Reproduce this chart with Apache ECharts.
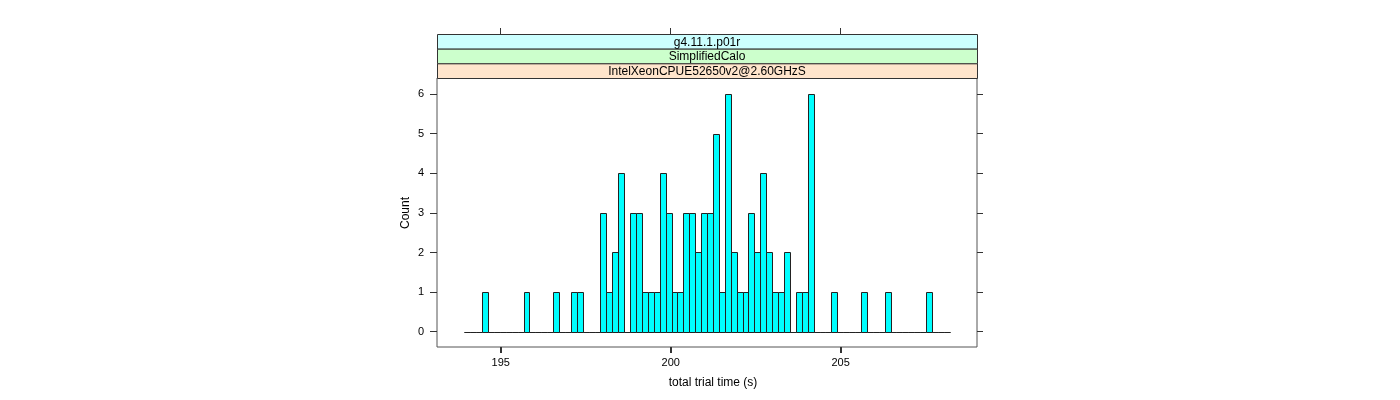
<!DOCTYPE html>
<html>
<head>
<meta charset="utf-8">
<script src="https://cdn.jsdelivr.net/npm/echarts@6/dist/echarts.min.js"></script>
<style>
html,body{margin:0;padding:0;background:#fff;}
#chart{width:1400px;height:400px;}
</style>
</head>
<body>
<div id="chart"></div>
<script>
// Histogram breaks (seconds)
const binStart = 193.93;
const binWidth = 0.17412;
// Counts per bin (82 bins)
const counts = [0,0,0,1,0,0,0,0,0,0,
                1,0,0,0,0,1,0,0,1,1,
                0,0,0,3,1,2,4,0,3,3,
                1,1,1,4,3,1,1,3,3,2,
                3,3,5,1,6,2,1,1,3,2,
                4,2,1,1,2,0,1,1,6,0,
                0,0,1,0,0,0,0,1,0,0,
                0,1,0,0,0,0,0,0,1,0,
                0,0];
const xTicks = [195, 200, 205];
const yTicks = [0, 1, 2, 3, 4, 5, 6];
const stripLabels = ['g4.11.1.p01r', 'SimplifiedCalo', 'IntelXeonCPUE52650v2@2.60GHzS'];
const stripColors = ['#CCFFFF', '#CCFFCC', '#FFE5CC'];
const xLabel = 'total trial time (s)';
const yLabel = 'Count';

const data = counts.map((c, i) => [binStart + i * binWidth, binStart + (i + 1) * binWidth, c]);

const FONT = 'Liberation Sans';
const G = {left: 437, top: 78, width: 540, height: 269};
const stripTop = 34;
const stripH = (G.top - stripTop) / 3;
const X_MIN = 193.126, X_MAX = 209.01;
const Y_MIN = -0.387, Y_MAX = 6.407;

const chart = echarts.init(document.getElementById('chart'), null, {renderer: 'canvas'});

const graphics = [];
stripLabels.forEach((t, i) => {
  const y = stripTop + i * stripH;
  graphics.push({
    type: 'rect', left: G.left, top: y, z: 10,
    shape: {x: 0, y: 0, width: G.width, height: stripH},
    style: {fill: stripColors[i], stroke: '#333', lineWidth: 1}
  });
  graphics.push({
    type: 'text', z: 11,
    x: G.left + G.width / 2, y: y + stripH / 2 + 1,
    style: {text: t, fill: '#000', font: '12px "' + FONT + '"', align: 'center', verticalAlign: 'middle'}
  });
});
graphics.push({
  type: 'text', x: 713, y: 383,
  style: {text: xLabel, fill: '#000', font: '12px "' + FONT + '"', align: 'center', verticalAlign: 'middle'}
});
graphics.push({
  type: 'text', x: 406, y: 213, rotation: Math.PI / 2,
  style: {text: yLabel, fill: '#000', font: '12px "' + FONT + '"', align: 'center', verticalAlign: 'middle'}
});

function tickAxis(extra) {
  return Object.assign({
    type: 'value', scale: false,
    splitLine: {show: false},
    axisLine: {show: false, onZero: false},
    axisLabel: {show: false}
  }, extra);
}

chart.setOption({
  animation: false,
  backgroundColor: '#fff',
  grid: {left: G.left, top: G.top, width: G.width, height: G.height, show: true,
         borderColor: '#555', borderWidth: 1, containLabel: false},
  xAxis: [
    tickAxis({
      position: 'bottom', min: X_MIN, max: X_MAX,
      axisTick: {show: true, length: 6, customValues: xTicks, lineStyle: {color: '#333'}},
      axisLabel: {show: true, customValues: xTicks, margin: 10, color: '#000',
                  fontFamily: FONT, fontSize: 11}
    }),
    tickAxis({
      position: 'top', offset: G.top - stripTop, min: X_MIN, max: X_MAX,
      axisTick: {show: true, length: 6, customValues: xTicks, lineStyle: {color: '#333'}}
    })
  ],
  yAxis: [
    tickAxis({
      position: 'left', min: Y_MIN, max: Y_MAX,
      axisTick: {show: true, length: 7, customValues: yTicks, lineStyle: {color: '#333'}},
      axisLabel: {show: true, customValues: yTicks, margin: 13, color: '#000',
                  fontFamily: FONT, fontSize: 11}
    }),
    tickAxis({
      position: 'right', min: Y_MIN, max: Y_MAX,
      axisTick: {show: true, length: 6, customValues: yTicks, lineStyle: {color: '#333'}}
    })
  ],
  graphic: graphics,
  series: [{
    type: 'custom',
    xAxisIndex: 0, yAxisIndex: 0,
    data: data,
    encode: {x: [0, 1], y: 2},
    clip: false,
    renderItem: function (params, api) {
      const c = api.value(2);
      const p0 = api.coord([api.value(0), c]);
      const p1 = api.coord([api.value(1), 0]);
      const x0 = Math.round(p0[0]) + 0.5;
      const x1 = Math.round(p1[0]) + 0.5;
      const yTop = Math.round(p0[1]) + 0.5;
      const yBot = Math.round(p1[1]) + 0.5;
      return {
        type: 'rect',
        shape: {x: x0, y: yTop, width: x1 - x0, height: yBot - yTop},
        style: {fill: c > 0 ? '#00FFFF' : 'none', stroke: '#222', lineWidth: 1}
      };
    }
  }]
});

// Bottom tick marks, x placed through the chart's x scale
const yBottom = G.top + G.height;
const tickGraphics = xTicks.map(v => {
  const px = chart.convertToPixel({xAxisIndex: 0}, v);
  const x = Math.round(px) + 0.5;
  return {
    type: 'rect', z: 100,
    shape: {x: x - 0.5, y: yBottom, width: 1, height: 6},
    style: {fill: '#333'}
  };
});
chart.setOption({graphic: graphics.concat(tickGraphics)});
</script>
</body>
</html>
